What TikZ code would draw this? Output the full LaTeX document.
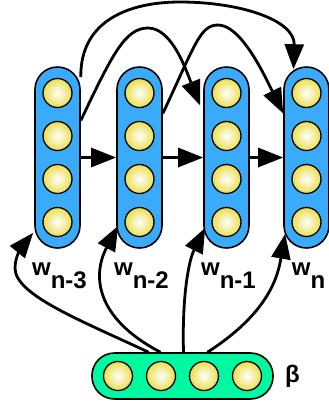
\documentclass[tikz,border=0pt]{standalone}
\usepackage{fontspec}
\setmainfont{Liberation Sans}
\usetikzlibrary{arrows.meta,calc,positioning}
\definecolor{hidblue}{RGB}{58,170,250}
\definecolor{inpgreen}{RGB}{0,248,160}
\definecolor{neuyellow}{RGB}{234,222,78}
\tikzset{
  colbox/.style={draw, line width=1.6pt, rounded corners=22.5pt, minimum width=45pt,
    minimum height=181pt, inner sep=0pt, fill=hidblue},
  neuron/.style={circle, draw, line width=1.3pt, minimum size=29pt, inner sep=0pt,
    inner color=white, outer color=neuyellow},
  link/.style={line width=2.8pt, -{Triangle[length=25pt,width=19pt]}},
  lbl/.style={font=\fontsize{24}{28}\selectfont\bfseries, inner sep=0pt, anchor=base}
}
\begin{document}
\begin{tikzpicture}[x=1pt, y=-1pt]
  \useasboundingbox (0,0) rectangle (329,408);
  % hidden columns
  \foreach \i/\x in {1/57.5, 2/139.5, 3/226.5, 4/306.5} {
    \node[colbox] (c\i) at (\x,157.5) {};
    \foreach \j/\y in {1/93, 2/136, 3/179, 4/222}
      \node[neuron] (c\i-\j) at (\x,\y) {};
  }
  % input bar
  \node[colbox, fill=inpgreen, minimum width=181pt, minimum height=46pt] (b) at (182.5,376) {};
  \foreach \j/\x in {1/118, 2/161, 3/204, 4/247}
    \node[neuron] (b-\j) at (\x,376) {};
  \node[font=\fontsize{24}{28}\selectfont\bfseries, inner sep=0pt, right=11pt of b] (beta) {β};
  % labels
  \node[lbl] (l1) at ($(c1.south)+(2,27)$) {w\raisebox{-13pt}{n-3}};
  \node[lbl] (l2) at ($(c2.south)+(2,27)$) {w\raisebox{-13pt}{n-2}};
  \node[lbl] (l3) at ($(c3.south)+(2,27)$) {w\raisebox{-13pt}{n-1}};
  \node[lbl] (l4) at ($(c4.south)+(2,27)$) {w\raisebox{-13pt}{n}};
  % next-step links
  \draw[link] (c1.east) -- (c2.west);
  \draw[link] (c2.east) -- (c3.west);
  \draw[link] (c3.east) -- (c4.west);
  % skip links
  \draw[link] ($(c1.north east)+(0,11)$) .. controls (80,20) and (130,2) .. (180,2)
    .. controls (240,2) and (295,20) .. ($(c4.north)+(-13,3)$);
  \draw[link] ($(c1.east)+(0,-37)$) .. controls (112,55) and (125,28) .. (148,28)
    .. controls (172,28) and (186,70) .. ($(c3.west)+(-3,-52)$);
  \draw[link] ($(c2.east)+(0,-44)$) .. controls (195,45) and (200,25) .. (218,25)
    .. controls (240,25) and (262,70) .. ($(c4.west)+(0,-44)$);
  % input links
  \draw[link] ($(b.north)+(-34,0)$) .. controls (80,320) and (15,295) .. (15,268)
    .. controls (15,255) and (24,244) .. ($(c1.south west)+(-1,-16)$);
  \draw[link] ($(b.north)+(-22,0)$) .. controls (95,318) and (92,275) .. ($(c2.south west)+(2,-23)$);
  \draw[link] ($(b.north)+(1,0)$) .. controls (182,300) and (188,262) .. ($(c3.south west)+(2,-21)$);
  \draw[link] ($(b.north)+(25,0)$) .. controls (270,312) and (278,275) .. ($(c4.south west)+(2,-15)$);
\end{tikzpicture}
\end{document}
